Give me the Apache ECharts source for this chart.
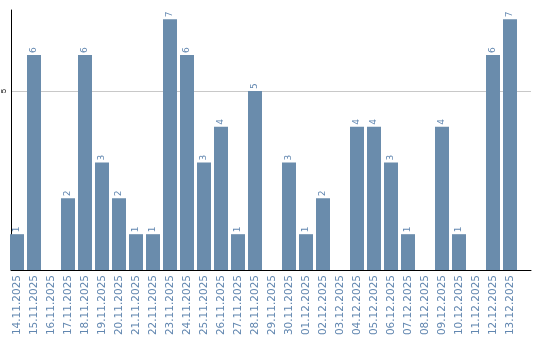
<!DOCTYPE html>
<html><head><meta charset="utf-8">
<script src="https://cdn.jsdelivr.net/npm/echarts@6/dist/echarts.min.js"></script>
<style>html,body{margin:0;padding:0;background:#fff}#c{width:540px;height:340px}</style>
</head><body><div id="c"></div>
<script>
const categories = ["14.11.2025","15.11.2025","16.11.2025","17.11.2025","18.11.2025","19.11.2025","20.11.2025","21.11.2025","22.11.2025","23.11.2025","24.11.2025","25.11.2025","26.11.2025","27.11.2025","28.11.2025","29.11.2025","30.11.2025","01.12.2025","02.12.2025","03.12.2025","04.12.2025","05.12.2025","06.12.2025","07.12.2025","08.12.2025","09.12.2025","10.12.2025","11.12.2025","12.12.2025","13.12.2025"];
const counts = [1,6,0,2,6,3,2,1,1,7,6,3,4,1,5,0,3,1,2,0,4,4,3,1,0,4,1,0,6,7];
const yMax = 7.26;
const chart = echarts.init(document.getElementById('c'));
chart.setOption({
  animation: false,
  grid: [
    {left: 8.5, width: 510, top: 10, bottom: 70, containLabel: false},
    {left: 10, right: 9, top: 10, bottom: 70, containLabel: false}
  ],
  xAxis: [{
    type: 'category', data: categories, gridIndex: 0,
    axisLine: {show: false},
    axisTick: {show: false},
    axisLabel: {rotate: 90, interval: 0, color: '#6287b0', fontSize: 10.5, fontFamily: 'DejaVu Sans', margin: 5}
  }, {
    type: 'value', gridIndex: 1, min: 0, max: 1,
    axisLine: {show: true, onZero: false, lineStyle: {color: '#000', width: 1}},
    axisTick: {show: false}, axisLabel: {show: false}, splitLine: {show: false}
  }],
  yAxis: [{
    type: 'value', gridIndex: 0, min: 0, max: yMax,
    axisLine: {show: false}, axisTick: {show: false}, axisLabel: {show: false}, splitLine: {show: false}
  }, {
    type: 'value', gridIndex: 1, min: 0, max: yMax, interval: 5,
    axisLine: {show: true, lineStyle: {color: '#000', width: 1}},
    axisTick: {show: false},
    splitLine: {lineStyle: {color: '#c8c8c8'}, showMinLine: false, showMaxLine: false},
    axisLabel: {rotate: 90, color: '#000', fontSize: 8, margin: 3, showMaxLabel: false, formatter: v => v === 5 ? '5' : ''}
  }],
  series: [{
    type: 'bar', data: counts, xAxisIndex: 0, yAxisIndex: 0, barWidth: 14,
    itemStyle: {color: '#6a8cac'},
    label: {
      show: true, position: 'top', rotate: 90, align: 'left', verticalAlign: 'middle',
      distance: 2, color: '#6287b0', fontSize: 9, fontFamily: 'DejaVu Sans',
      formatter: p => p.value ? String(p.value) : ''
    }
  }]
});
</script></body></html>
